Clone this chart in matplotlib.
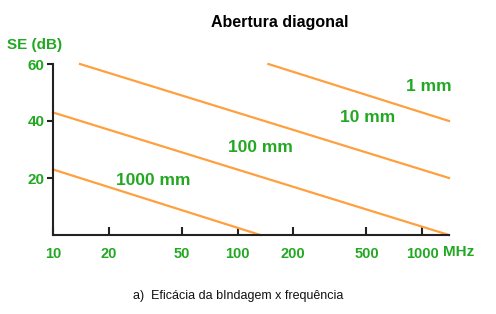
"""
Shielding effectiveness vs frequency for diagonal apertures
"""

import matplotlib.pyplot as plt

plt.rcParams['font.family'] = ['Liberation Sans', 'DejaVu Sans']

GREEN = '#22a822'
ORANGE = '#ffa040'

# aperture lines (frequency MHz, SE dB)
freq_1000mm = [10, 133]
se_1000mm = [23, 0]
freq_100mm = [10, 1400]
se_100mm = [43, 0]
freq_10mm = [14, 1400]
se_10mm = [60, 20]
freq_1mm = [147, 1400]
se_1mm = [60, 40]

labels = ['1000 mm', '100 mm', '10 mm', '1 mm']
label_freq = [35, 133, 510, 1090]
label_se = [19, 30.8, 41.2, 52]

x_ticks = [10, 20, 50, 100, 200, 500, 1000]
y_ticks = [20, 40, 60]

fig = plt.figure(figsize=(4.96, 3.14), dpi=100)
ax = fig.add_axes([53 / 496, 79 / 314, 396 / 496, 171 / 314])

for f, se in [(freq_1000mm, se_1000mm), (freq_100mm, se_100mm),
              (freq_10mm, se_10mm), (freq_1mm, se_1mm)]:
    ax.plot(f, se, color=ORANGE, linewidth=1.6, clip_on=False, zorder=2)

for txt, f, se in zip(labels, label_freq, label_se):
    ax.text(f, se, txt, color=GREEN, fontsize=12.5, fontweight='bold',
            ha='center', va='center')

ax.set_xscale('log')
ax.set_xlim(10, 1400)
ax.set_ylim(0, 60)
ax.set_xticks(x_ticks)
ax.set_xticklabels([str(t) for t in x_ticks])
ax.minorticks_off()
ax.set_yticks(y_ticks)
ax.set_yticklabels([str(t) for t in y_ticks])

ax.spines['top'].set_visible(False)
ax.spines['right'].set_visible(False)
for s in ['left', 'bottom']:
    ax.spines[s].set_linewidth(1.5)
    ax.spines[s].set_color('#222222')

ax.tick_params(axis='x', direction='in', length=6, width=1.5, pad=8.5,
               labelsize=10.5, labelcolor=GREEN, color='#222222')
ax.tick_params(axis='y', direction='out', length=4, width=1.5, pad=2,
               labelsize=11, labelcolor=GREEN, color='#222222')
for lbl in ax.get_xticklabels() + ax.get_yticklabels():
    lbl.set_fontweight('bold')

fig.text(459 / 496, 1 - 252 / 314, 'MHz', color=GREEN, fontsize=11,
         fontweight='bold', ha='center', va='center')
fig.text(35 / 496, 1 - 45 / 314, 'SE (dB)', color=GREEN, fontsize=11,
         fontweight='bold', ha='center', va='center')
fig.text(280 / 496, 1 - 23 / 314, 'Abertura diagonal', color='black',
         fontsize=11.5, fontweight='bold', ha='center', va='center')
fig.text(238 / 496, 1 - 296 / 314, 'a)  Eficácia da bIndagem x frequência',
         color='#111111', fontsize=9, ha='center', va='center')

plt.savefig('out.png', dpi=100)
plt.close()
